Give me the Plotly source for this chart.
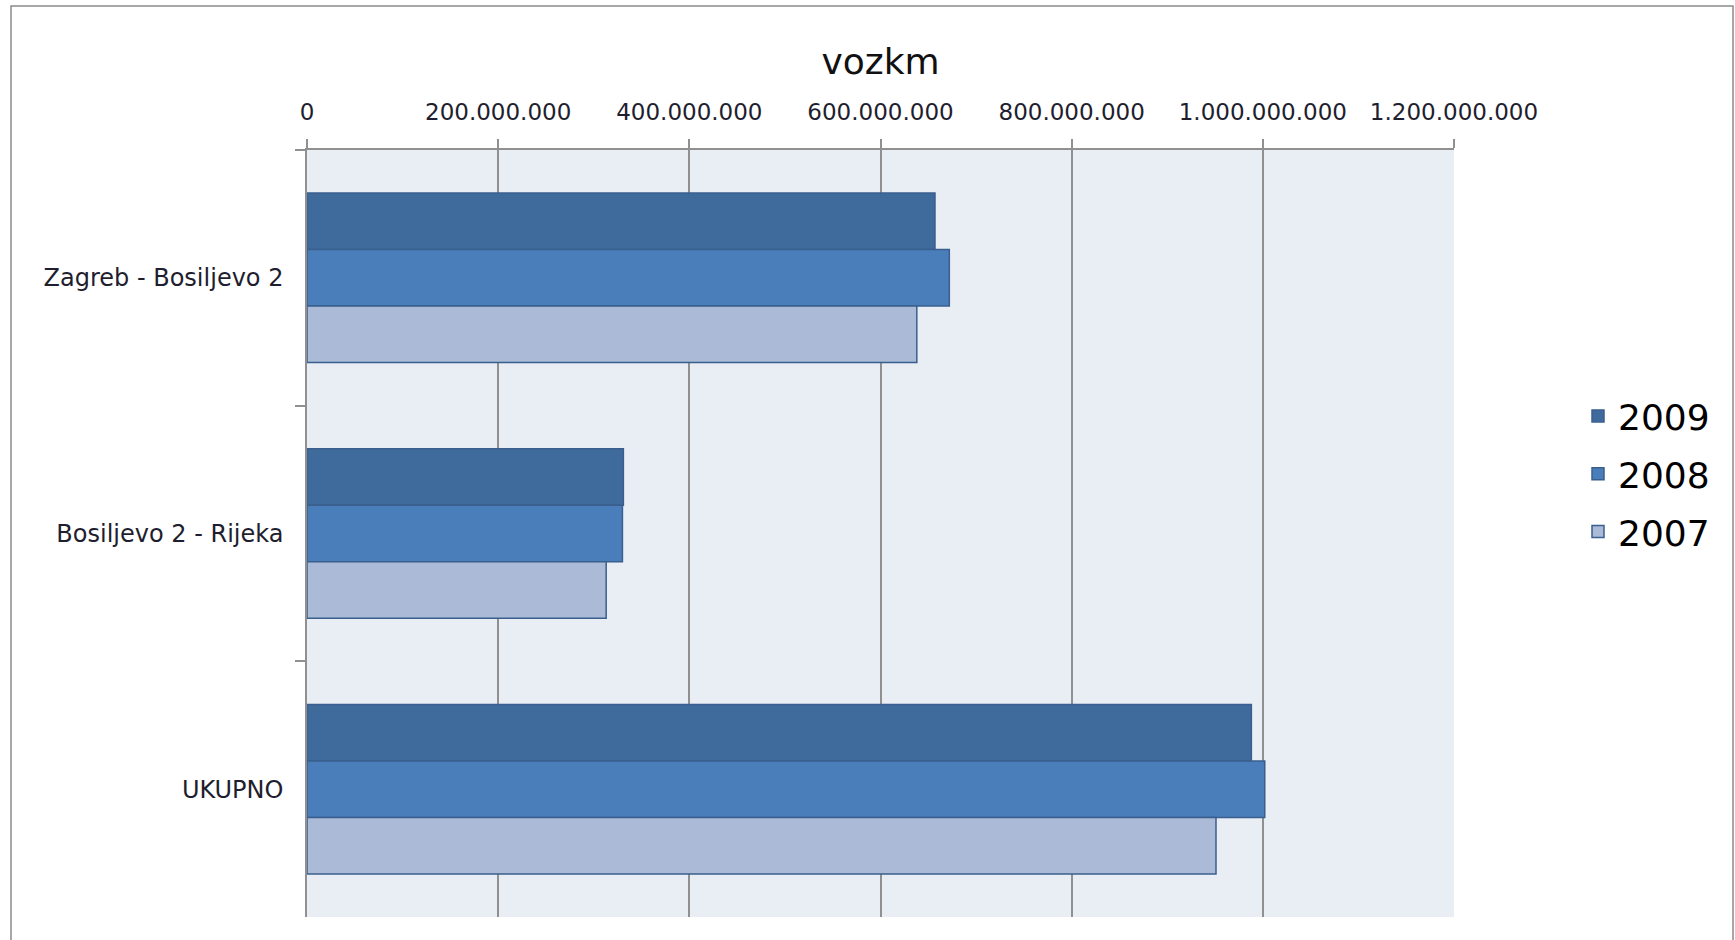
import plotly.graph_objects as go

categories = ["Zagreb - Bosiljevo 2", "Bosiljevo 2 - Rijeka", "UKUPNO"]
years = ["2009", "2008", "2007"]
values_2009 = [657_000_000, 331_000_000, 988_000_000]
values_2008 = [672_000_000, 330_000_000, 1_002_000_000]
values_2007 = [638_000_000, 313_000_000, 951_000_000]
series = [values_2009, values_2008, values_2007]
colors = ["#3F6A9C", "#4A7EBB", "#AABAD7"]
x_ticks = [0, 200_000_000, 400_000_000, 600_000_000, 800_000_000, 1_000_000_000, 1_200_000_000]

W, H = 1735, 940
L, R, T, B = 307, 1454, 150, 917

fig = go.Figure()
for name, vals, col in zip(years, series, colors):
    fig.add_trace(go.Bar(
        y=categories, x=vals, name=name, orientation="h",
        marker=dict(color=col, line=dict(color="#3A5F8E", width=1.5)),
        legendgroup=name,
    ))

fig.update_layout(
    width=W, height=H,
    margin=dict(l=L, r=W - R, t=T, b=H - B, pad=0),
    paper_bgcolor="white",
    plot_bgcolor="#E9EDF4",
    barmode="group",
    bargap=0.337,
    bargroupgap=0,
    separators=",.",
    font=dict(family="DejaVu Sans, Verdana, sans-serif", color="#1E1E2E"),
    title=dict(text="vozkm", x=(L + R) / 2 / W, xanchor="center", xref="container",
               y=1 - 61 / H, yanchor="middle", yref="container",
               font=dict(size=36, color="#111111", family="DejaVu Sans, sans-serif")),
    showlegend=True,
    legend=dict(
        xref="container", yref="container",
        x=1578 / W, y=1 - 386 / H, xanchor="left", yanchor="top",
        font=dict(size=36, color="#000000"),
        traceorder="grouped", tracegroupgap=8,
        bgcolor="rgba(0,0,0,0)", borderwidth=0,
    ),
    xaxis=dict(
        side="top", range=[0, 1_200_000_000], tickvals=x_ticks,
        tickformat=",d",
        showgrid=True, gridcolor="#909090", gridwidth=1.5,
        showline=True, linecolor="#909090", linewidth=1.5,
        ticks="outside", ticklen=9, tickcolor="#909090", tickwidth=1.5,
        tickfont=dict(size=23, color="#1E1E2E"),
        ticklabelstandoff=10,
        zeroline=False, fixedrange=True,
    ),
    yaxis=dict(
        autorange="reversed", type="category",
        showline=True, linecolor="#909090", linewidth=1.5,
        ticks="outside", ticklen=10, tickcolor="#909090", tickwidth=1.5,
        tickson="boundaries",
        tickfont=dict(size=24, color="#1E1E2E"),
        ticklabelstandoff=17,
        showgrid=False, zeroline=False, fixedrange=True,
    ),
    shapes=[dict(type="rect", xref="paper", yref="paper",
                 x0=(11 - L) / (R - L), x1=(1733 - L) / (R - L),
                 y0=(B - 950) / (B - T), y1=(B - 6) / (B - T),
                 line=dict(color="#8A8A8A", width=1.5), fillcolor="rgba(0,0,0,0)",
                 layer="below")],
)

fig.write_html("out.html",
               config={"displayModeBar": False},
               post_script="document.body.style.margin='0';document.body.style.overflow='hidden';")
